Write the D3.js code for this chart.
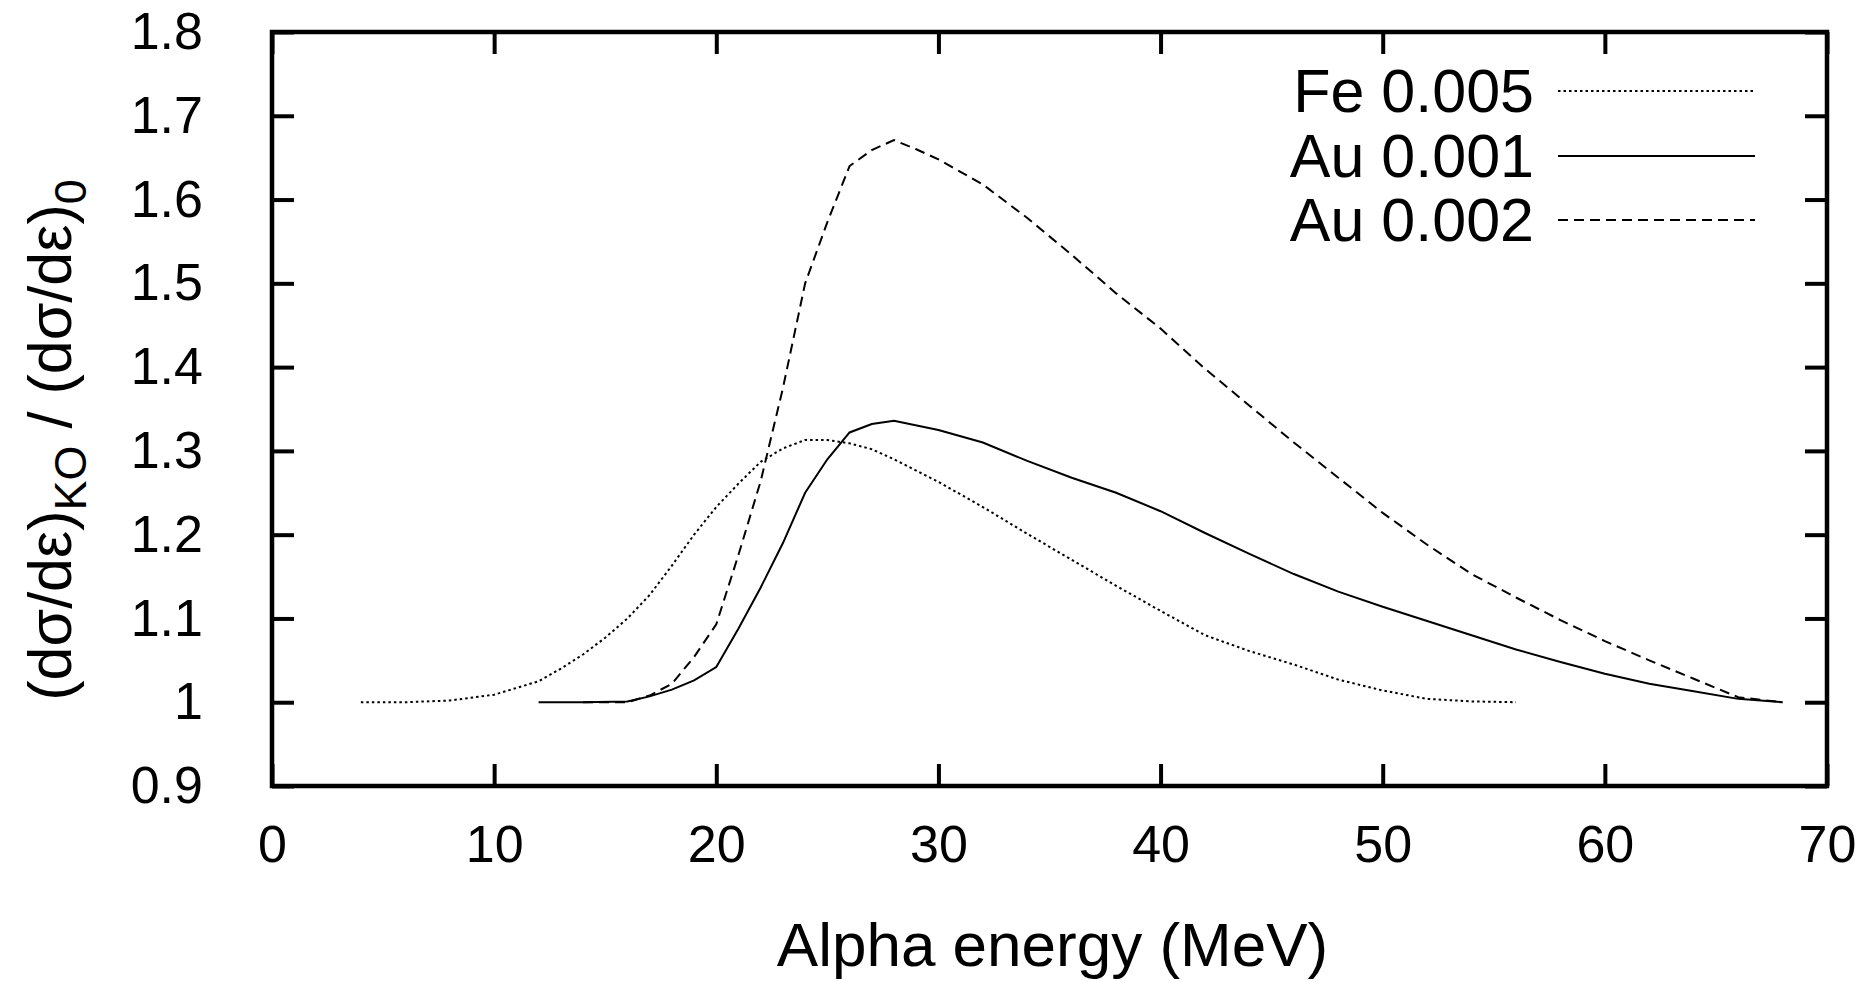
<!DOCTYPE html>
<html>
<head>
<meta charset="utf-8">
<script src="https://cdn.jsdelivr.net/npm/d3@7"></script>
<style>
  html, body { margin: 0; padding: 0; background: #fff; }
  svg { display: block; }
  text { font-family: "Liberation Sans", Arial, Helvetica, sans-serif; fill: #000; }
</style>
</head>
<body>
<svg id="chart" width="1876" height="981"></svg>
<script>
// ---- data ----
const xTicks = [0, 10, 20, 30, 40, 50, 60, 70];
const yTicks = [0.9, 1.0, 1.1, 1.2, 1.3, 1.4, 1.5, 1.6, 1.7, 1.8];
const yTickLabels = ["0.9", "1", "1.1", "1.2", "1.3", "1.4", "1.5", "1.6", "1.7", "1.8"];

const feE = [4, 6, 8, 10, 12, 13, 14, 15, 16, 17, 18, 19, 20, 21, 22, 23, 24, 25, 26, 27, 28, 30, 32, 34, 36, 38, 40, 42, 44, 46, 48, 50, 52, 54, 56];
const feV = [1.000, 1.000, 1.002, 1.009, 1.025, 1.040, 1.057, 1.077, 1.100, 1.128, 1.163, 1.200, 1.233, 1.261, 1.287, 1.303, 1.313, 1.313, 1.309, 1.302, 1.290, 1.263, 1.233, 1.201, 1.170, 1.139, 1.109, 1.080, 1.061, 1.045, 1.027, 1.014, 1.004, 1.001, 1.000];

const au1E = [12, 14, 16, 17, 18, 19, 20, 21, 22, 23, 24, 25, 26, 27, 28, 30, 32, 34, 36, 38, 40, 42, 44, 46, 48, 50, 52, 54, 56, 58, 60, 62, 64, 66, 68];
const au1V = [1.000, 1.000, 1.001, 1.007, 1.015, 1.026, 1.042, 1.088, 1.137, 1.190, 1.250, 1.290, 1.322, 1.332, 1.336, 1.325, 1.310, 1.288, 1.268, 1.250, 1.228, 1.202, 1.177, 1.153, 1.132, 1.114, 1.097, 1.080, 1.063, 1.048, 1.034, 1.022, 1.013, 1.004, 1.000];

const au2E = [14, 16, 17, 18, 19, 20, 21, 22, 23, 24, 25, 26, 27, 28, 29, 30, 32, 34, 36, 38, 40, 42, 44, 46, 48, 50, 52, 54, 56, 58, 60, 62, 64, 66, 68];
const au2V = [1.000, 1.000, 1.008, 1.022, 1.054, 1.093, 1.176, 1.264, 1.375, 1.500, 1.573, 1.640, 1.659, 1.671, 1.660, 1.648, 1.618, 1.578, 1.534, 1.488, 1.446, 1.398, 1.354, 1.310, 1.268, 1.226, 1.188, 1.153, 1.125, 1.098, 1.073, 1.050, 1.028, 1.006, 1.000];

const seriesNames = ["Fe 0.005", "Au 0.001", "Au 0.002"];
const seriesDash = ["2.5,3", null, "10,6"];

// ---- layout ----
const svg = d3.select("#chart");
const L = 272, R = 1827, T = 32, B = 786;
const x = d3.scaleLinear().domain([0, 70]).range([L, R]);
const y = d3.scaleLinear().domain([0.9, 1.8]).range([B, T]);

const tickFont = 52;
const tickLen = 22;

// bottom axis
const gB = svg.append("g").attr("transform", `translate(0,${B})`)
  .call(d3.axisBottom(x).tickValues(xTicks).tickFormat(d3.format("d"))
    .tickSizeInner(-tickLen).tickSizeOuter(0).tickPadding(39));
// top axis (mirror ticks)
const gT = svg.append("g").attr("transform", `translate(0,${T})`)
  .call(d3.axisTop(x).tickValues(xTicks).tickFormat("")
    .tickSizeInner(-tickLen).tickSizeOuter(0));
// left axis
const gL = svg.append("g").attr("transform", `translate(${L},0)`)
  .call(d3.axisLeft(y).tickValues(yTicks).tickFormat((d, i) => yTickLabels[i])
    .tickSizeInner(-tickLen).tickSizeOuter(0).tickPadding(69));
// right axis (mirror ticks)
const gR = svg.append("g").attr("transform", `translate(${R},0)`)
  .call(d3.axisRight(y).tickValues(yTicks).tickFormat("")
    .tickSizeInner(-tickLen).tickSizeOuter(0));

[gB, gT, gL, gR].forEach(g => {
  g.select(".domain").remove();
  g.selectAll(".tick line").attr("stroke", "#000").attr("stroke-width", 4);
  g.selectAll(".tick text").attr("font-size", tickFont)
    .style("font-family", '"Liberation Sans", Arial, sans-serif').attr("fill", "#000");
});

// border
svg.append("rect").attr("x", L).attr("y", T).attr("width", R - L).attr("height", B - T)
  .attr("fill", "none").attr("stroke", "#000").attr("stroke-width", 4.5);

// ---- curves ----
const line = d3.line().x(d => x(d[0])).y(d => y(d[1]));
const series = [
  d3.zip(feE, feV),
  d3.zip(au1E, au1V),
  d3.zip(au2E, au2V)
];
series.forEach((s, i) => {
  svg.append("path").datum(s).attr("d", line)
    .attr("fill", "none").attr("stroke", "#000").attr("stroke-width", 2)
    .attr("stroke-dasharray", seriesDash[i]);
});

// ---- legend ----
const legRows = [91, 156, 220];
const legTextX = 1534, legLineX1 = 1558, legLineX2 = 1755;
seriesNames.forEach((name, i) => {
  svg.append("text").attr("x", legTextX).attr("y", legRows[i]).attr("dy", "0.35em")
    .attr("text-anchor", "end").attr("font-size", 61).text(name);
  svg.append("line").attr("x1", legLineX1).attr("x2", legLineX2)
    .attr("y1", legRows[i]).attr("y2", legRows[i])
    .attr("stroke", "#000").attr("stroke-width", 2)
    .attr("stroke-dasharray", seriesDash[i]);
});

// ---- axis titles ----
svg.append("text").attr("x", (L + R) / 2 + 3).attr("y", 944).attr("dy", "0.35em")
  .attr("text-anchor", "middle").attr("font-size", 62).text("Alpha energy (MeV)");

const yt = svg.append("text")
  .attr("transform", "translate(50,440) rotate(-90)")
  .attr("text-anchor", "middle").attr("font-size", 61).attr("dy", "0.35em");
yt.append("tspan").text("(dσ/dε)");
yt.append("tspan").attr("dy", 15).attr("font-size", 45).text("KO");
yt.append("tspan").attr("dy", -15).text(" / (dσ/dε)");
yt.append("tspan").attr("dy", 15).attr("font-size", 45).text("0");
</script>
</body>
</html>
